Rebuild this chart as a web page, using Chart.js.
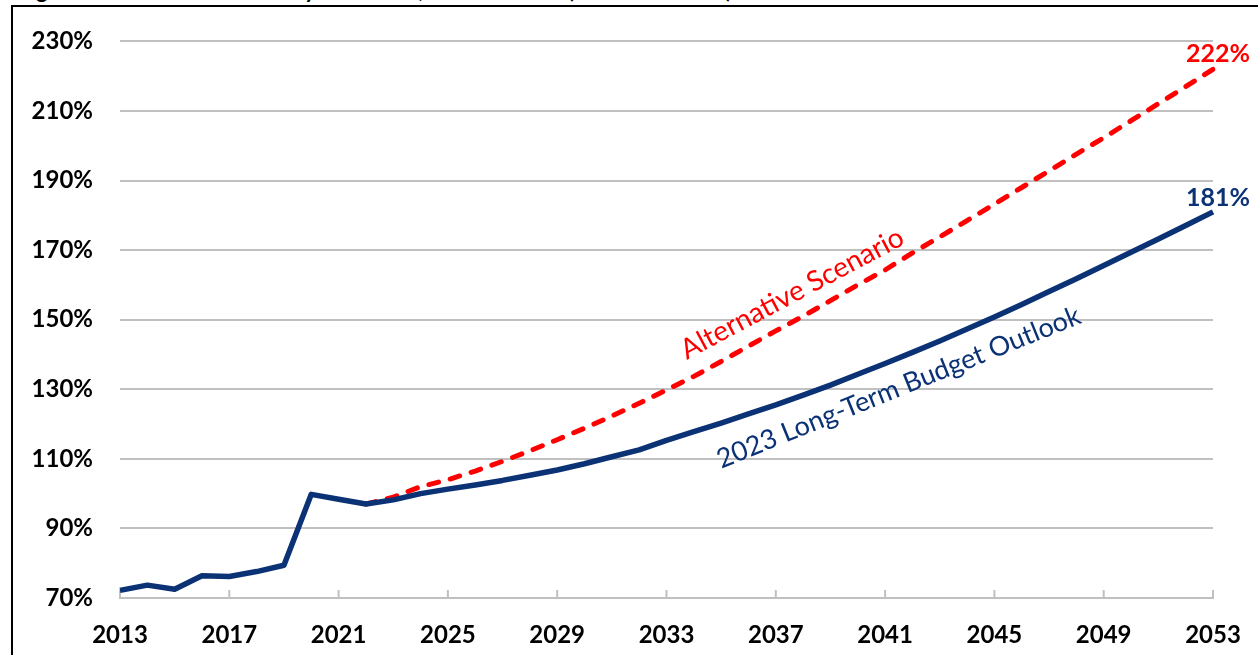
<!DOCTYPE html>
<html>
<head>
<meta charset="utf-8">
<script src="https://cdn.jsdelivr.net/npm/chart.js@4"></script>
<style>
  html, body { margin: 0; padding: 0; background: #fff; overflow: hidden; }
  #wrap { position: relative; width: 1258px; height: 655px; }
  #title {
    position: absolute; left: 18px; top: -21px; white-space: nowrap;
    font: bold 22px/22px Lato, sans-serif; color: #000;
  }
  #frame {
    position: absolute; left: 11px; top: 5px; width: 1300px; height: 700px;
    border-left: 2px solid #000; border-top: 2px solid #000; pointer-events: none;
  }
  canvas { position: absolute; left: 0; top: 0; }
</style>
</head>
<body>
<div id="wrap">
  <div id="title">Figure 1: Federal Debt Held by the Public, 2013 to 2053 (Percent of GDP)</div>
  <canvas id="chart-debt" width="1258" height="655"></canvas>
  <div id="frame"></div>
</div>
<script>
const years = [];
for (let y = 2013; y <= 2053; y++) years.push(String(y));

// debt held by the public, % of GDP
const baseline = [
  72.2, 73.7, 72.5, 76.4, 76.2, 77.6, 79.4, 99.8, 98.4, 97.0,
  98.2, 100.0, 101.3, 102.5, 103.8, 105.3, 106.8, 108.6, 110.6, 112.6,
  115.3, 117.8, 120.3, 122.9, 125.5, 128.3, 131.2, 134.3, 137.4, 140.6,
  143.9, 147.3, 150.8, 154.4, 158.1, 161.8, 165.6, 169.4, 173.2, 177.1,
  181.0,
];
const alternative = [
  null, null, null, null, null, null, null, null, null, 97.0,
  99.0, 102.0, 104.0, 106.5, 109.3, 112.3, 115.5, 118.8, 122.3, 126.0,
  129.8, 133.7, 138.0, 142.4, 146.8, 151.0, 155.5, 160.0, 164.3, 169.2,
  173.8, 178.5, 183.2, 188.0, 192.8, 197.6, 202.3, 207.2, 212.1, 217.0,
  222.0,
];
const yTicks = [70, 90, 110, 130, 150, 170, 190, 210, 230];

const NAVY = '#0b3275';
const RED = '#ff0000';
const GRID = '#c0c0c0';
const FONT = 'Lato, sans-serif';

const insideTicks = {
  id: 'insideTicks',
  beforeDatasetsDraw(chart) {
    const { ctx, scales: { x }, chartArea } = chart;
    ctx.save();
    ctx.strokeStyle = GRID;
    ctx.lineWidth = 2;
    years.forEach((yr, i) => {
      if ((+yr - 2013) % 4 !== 0) return;
      const px = x.getPixelForValue(i);
      ctx.beginPath();
      ctx.moveTo(px, chartArea.bottom);
      ctx.lineTo(px, chartArea.bottom - 8);
      ctx.stroke();
    });
    ctx.restore();
  },
};

const annotations = {
  id: 'annotations',
  afterDatasetsDraw(chart) {
    const { ctx, scales: { x, y } } = chart;
    const last = years.length - 1;
    ctx.save();
    ctx.textAlign = 'center';
    ctx.textBaseline = 'middle';
    ctx.font = `bold 25px ${FONT}`;
    ctx.fillStyle = RED;
    ctx.fillText(alternative[last] + '%', x.getPixelForValue(last) + 5, y.getPixelForValue(alternative[last]) - 15);
    ctx.fillStyle = NAVY;
    ctx.fillText(baseline[last] + '%', x.getPixelForValue(last) + 5, y.getPixelForValue(baseline[last]) - 14);

    const rotated = (text, idx, val, deg, size, color) => {
      ctx.save();
      ctx.translate(x.getPixelForValue(idx), y.getPixelForValue(val));
      ctx.rotate(deg * Math.PI / 180);
      ctx.font = `${size}px ${FONT}`;
      ctx.fillStyle = color;
      ctx.fillText(text, 0, 0);
      ctx.restore();
    };
    rotated('Alternative Scenario', 24.6, 157.5, -28, 28, RED);
    rotated('2023 Long-Term Budget Outlook', 28.5, 130.5, -22, 27, NAVY);
    ctx.restore();
  },
};

new Chart(document.getElementById('chart-debt'), {
  type: 'line',
  data: {
    labels: years,
    datasets: [
      {
        label: '2023 Long-Term Budget Outlook',
        data: baseline,
        borderColor: NAVY,
        borderWidth: 5.5,
        pointRadius: 0,
        tension: 0,
        borderJoinStyle: 'round',
      },
      {
        label: 'Alternative Scenario',
        data: alternative,
        borderColor: RED,
        borderWidth: 5,
        borderDash: [10, 12],
        borderCapStyle: 'round',
        pointRadius: 0,
        tension: 0,
      },
    ],
  },
  options: {
    responsive: false,
    animation: false,
    layout: { padding: { top: 40, right: 45, bottom: 0, left: 0 } },
    plugins: { legend: { display: false }, tooltip: { enabled: false } },
    scales: {
      x: {
        offset: false,
        grid: { display: false, drawTicks: false },
        border: { display: true, color: GRID, width: 2 },
        afterFit: s => { s.height = 57; s.paddingLeft = 0; s.paddingRight = 0; },
        ticks: {
          autoSkip: false,
          maxRotation: 0,
          padding: 23,
          color: '#000',
          font: { family: FONT, size: 24, weight: 'bold' },
          callback: (v, i) => ((+years[i] - 2013) % 4 === 0 ? years[i] : ''),
        },
      },
      y: {
        min: 70,
        max: 230,
        afterBuildTicks: s => { s.ticks = yTicks.map(v => ({ value: v })); },
        afterFit: s => { s.width = 120; },
        grid: { color: GRID, lineWidth: 2, drawTicks: false },
        border: { display: false },
        ticks: {
          padding: 27,
          color: '#000',
          font: { family: FONT, size: 24, weight: 'bold' },
          callback: v => v + '%',
        },
      },
    },
  },
  plugins: [insideTicks, annotations],
});
</script>
</body>
</html>
